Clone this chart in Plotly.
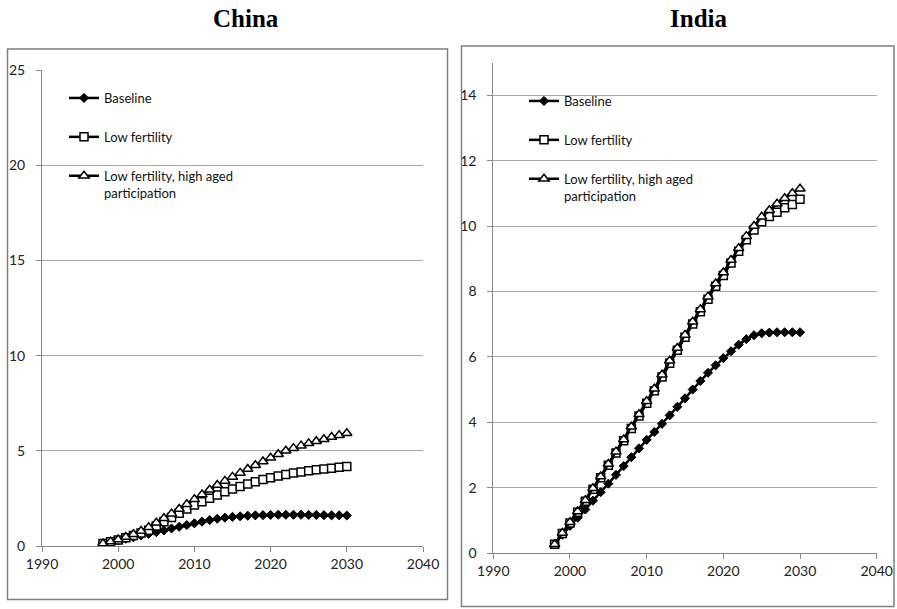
import plotly.graph_objects as go

# ---- data -------------------------------------------------------------
years = list(range(1998, 2031))

series_names = ["Baseline", "Low fertility", "Low fertility, high aged<br>participation"]

china_baseline = [0.12, 0.20, 0.30, 0.38, 0.46, 0.55, 0.64, 0.73, 0.82, 0.92, 1.01,
                  1.10, 1.19, 1.28, 1.36, 1.43, 1.49, 1.53, 1.56, 1.59, 1.61, 1.62,
                  1.63, 1.64, 1.64, 1.64, 1.64, 1.63, 1.63, 1.62, 1.61, 1.61, 1.60]
china_low_fert = [0.13, 0.22, 0.32, 0.43, 0.55, 0.68, 0.83, 1.05, 1.28, 1.50, 1.72,
                  1.94, 2.15, 2.33, 2.51, 2.68, 2.85, 2.99, 3.13, 3.26, 3.38, 3.49,
                  3.59, 3.68, 3.76, 3.83, 3.89, 3.95, 4.00, 4.05, 4.09, 4.13, 4.17]
china_low_fert_aged = [0.13, 0.23, 0.34, 0.47, 0.62, 0.79, 0.98, 1.22, 1.46, 1.70, 1.94,
                       2.19, 2.45, 2.70, 2.95, 3.20, 3.42, 3.63, 3.84, 4.04, 4.24, 4.44,
                       4.63, 4.82, 5.00, 5.14, 5.27, 5.39, 5.50, 5.61, 5.72, 5.82, 5.92]

india_baseline = [0.28, 0.56, 0.83, 1.08, 1.33, 1.60, 1.86, 2.12, 2.39, 2.66, 2.93,
                  3.20, 3.46, 3.70, 3.95, 4.21, 4.47, 4.73, 5.00, 5.26, 5.51, 5.74,
                  5.96, 6.17, 6.37, 6.54, 6.66, 6.72, 6.74, 6.75, 6.75, 6.75, 6.75]
india_low_fert = [0.27, 0.60, 0.92, 1.25, 1.58, 1.95, 2.30, 2.68, 3.06, 3.43, 3.81,
                  4.19, 4.58, 4.96, 5.38, 5.80, 6.20, 6.60, 7.00, 7.38, 7.76, 8.16,
                  8.49, 8.87, 9.23, 9.58, 9.88, 10.13, 10.29, 10.42, 10.56, 10.66, 10.82]
india_low_fert_aged = [0.27, 0.61, 0.94, 1.27, 1.61, 1.98, 2.34, 2.72, 3.10, 3.47, 3.86,
                       4.24, 4.64, 5.02, 5.45, 5.88, 6.27, 6.67, 7.07, 7.45, 7.84, 8.24,
                       8.58, 8.96, 9.32, 9.69, 10.00, 10.28, 10.48, 10.68, 10.85, 11.00, 11.14]

x_ticks = [1990, 2000, 2010, 2020, 2030, 2040]
china_y_ticks = [0, 5, 10, 15, 20, 25]
india_y_ticks = [0, 2, 4, 6, 8, 10, 12, 14]

# ---- layout helpers ---------------------------------------------------
W, H = 897, 609


def fx(p):
    return p / W


def fy(p):
    return 1 - p / H


marker_styles = [
    dict(symbol="diamond", size=7, color="black", line=dict(color="black", width=1)),
    dict(symbol="square", size=8, color="white", line=dict(color="black", width=1.5)),
    dict(symbol="triangle-up", size=9, color="white", line=dict(color="black", width=1.5)),
]

fig = go.Figure()

panels = [
    ("x", "y", "legend", "c", [china_baseline, china_low_fert, china_low_fert_aged]),
    ("x2", "y2", "legend2", "i", [india_baseline, india_low_fert, india_low_fert_aged]),
]
for xa, ya, leg, tag, data in panels:
    for k, (name, vals) in enumerate(zip(series_names, data)):
        fig.add_trace(go.Scatter(
            x=years, y=vals, name=name, mode="lines+markers",
            line=dict(color="black", width=2.5),
            marker=marker_styles[k],
            xaxis=xa, yaxis=ya, legend=leg, legendgroup=f"{tag}{k}",
        ))

tick_font = dict(family="Lato, Carlito, sans-serif", size=14, color="#222222")
axis_gray = "#868686"
grid_gray = "#a8a8a8"

common_x = dict(range=[1990, 2040], tickvals=x_ticks, showline=True, linecolor=axis_gray,
                linewidth=1, ticks="outside", ticklen=5, tickcolor=axis_gray,
                showgrid=False, zeroline=False, tickfont=tick_font, fixedrange=True,
                automargin=False)
common_y = dict(showline=True, linecolor=axis_gray, linewidth=1, ticks="outside",
                ticklen=5, tickcolor=axis_gray, showgrid=True, gridcolor=grid_gray,
                gridwidth=1, zeroline=False, tickfont=tick_font, ticklabelstandoff=8,
                fixedrange=True, automargin=False)

legend_common = dict(xanchor="left", yanchor="top", bgcolor="rgba(0,0,0,0)",
                     font=dict(family="Lato, Carlito, sans-serif", size=13, color="#111111"),
                     tracegroupgap=19, valign="top", itemclick=False)

fig.update_layout(
    width=W, height=H, margin=dict(l=0, r=0, t=0, b=0, autoexpand=False),
    paper_bgcolor="white", plot_bgcolor="white", showlegend=True,
    xaxis=dict(domain=[fx(42), fx(423)], anchor="y", **common_x),
    yaxis=dict(domain=[fy(546), fy(70)], anchor="x", range=[0, 25],
               tickvals=china_y_ticks, **common_y),
    xaxis2=dict(domain=[fx(493.3), fx(876.7)], anchor="y2", **common_x),
    yaxis2=dict(domain=[fy(553), fy(62.5)], anchor="x2", range=[0, 15],
                tickvals=india_y_ticks, **common_y),
    legend=dict(x=fx(64), y=fy(83), **legend_common),
    legend2=dict(x=fx(524), y=fy(86), **legend_common),
    shapes=[
        dict(type="rect", xref="paper", yref="paper", x0=fx(7.5), x1=fx(447.5),
             y0=fy(599.5), y1=fy(49), line=dict(color="#7f7f7f", width=1.5)),
        dict(type="rect", xref="paper", yref="paper", x0=fx(461.5), x1=fx(894),
             y0=fy(606.5), y1=fy(46), line=dict(color="#7f7f7f", width=1.5)),
    ],
    annotations=[
        dict(text="<b>China</b>", xref="paper", yref="paper", x=fx(246), y=fy(19),
             xanchor="center", yanchor="middle", showarrow=False,
             font=dict(family="Liberation Serif, Times New Roman, serif", size=25, color="black")),
        dict(text="<b>India</b>", xref="paper", yref="paper", x=fx(698), y=fy(19),
             xanchor="center", yanchor="middle", showarrow=False,
             font=dict(family="Liberation Serif, Times New Roman, serif", size=25, color="black")),
    ],
)

fig.write_html("out.html")
